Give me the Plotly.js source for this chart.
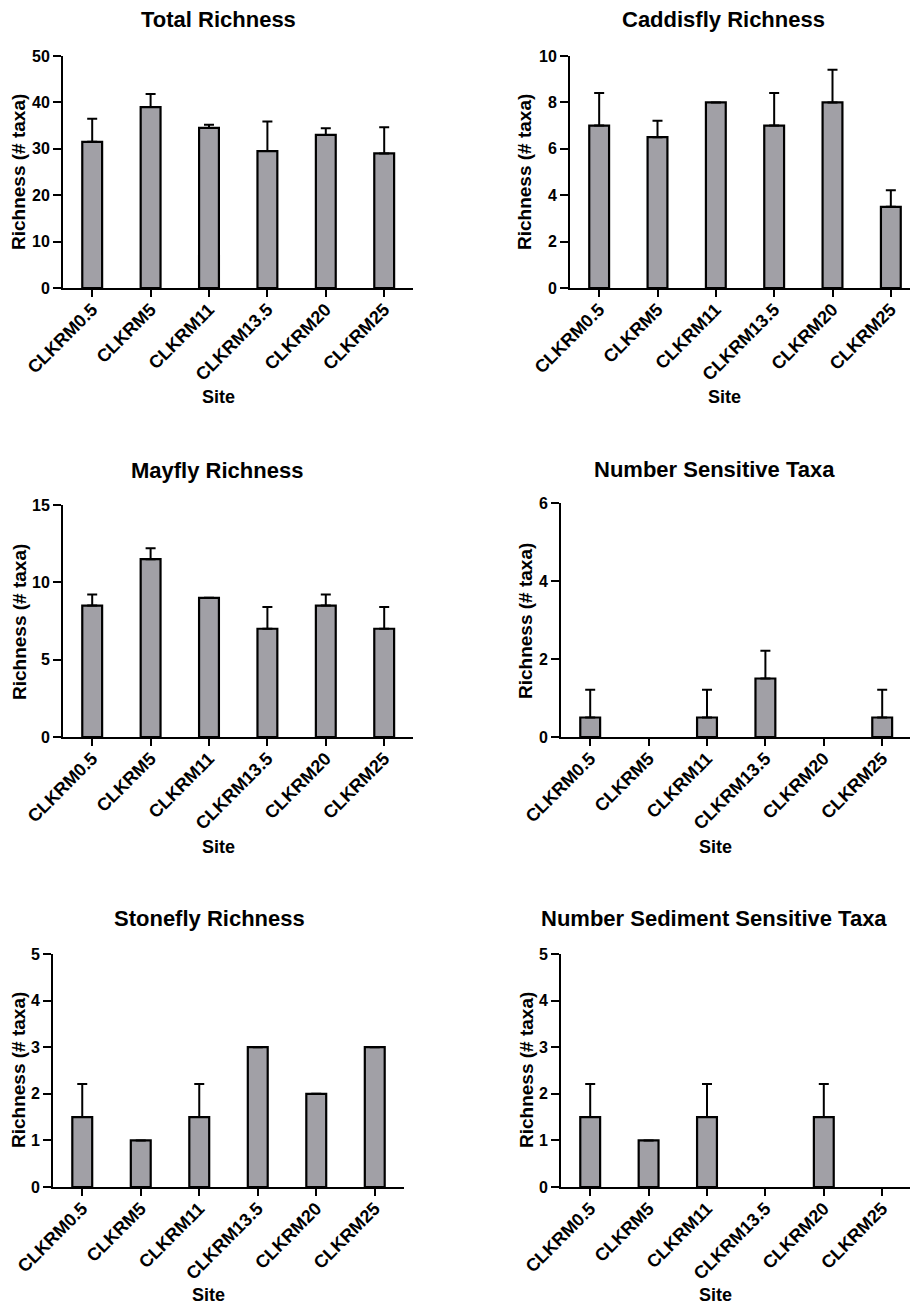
<!DOCTYPE html>
<html>
<head>
<meta charset="utf-8">
<script src="https://cdn.plot.ly/plotly-3.0.1.min.js"></script>
<style>
  html, body { margin: 0; padding: 0; background: #ffffff; overflow: hidden; }
  #chart { width: 920px; height: 1307px; }
</style>
</head>
<body>
<div id="chart"></div>
<script>
// Sampling sites along the creek
const sites = ['CLKRM0.5', 'CLKRM5', 'CLKRM11', 'CLKRM13.5', 'CLKRM20', 'CLKRM25'];

// Mean richness per site and its standard deviation
const totalRichness = [31.5, 39, 34.5, 29.5, 33, 29];
const totalRichnessSD = [4.95, 2.83, 0.71, 6.36, 1.41, 5.66];

const caddisflyRichness = [7, 6.5, 8, 7, 8, 3.5];
const caddisflyRichnessSD = [1.41, 0.71, 0, 1.41, 1.41, 0.71];

const mayflyRichness = [8.5, 11.5, 9, 7, 8.5, 7];
const mayflyRichnessSD = [0.71, 0.71, 0, 1.41, 0.71, 1.41];

const sensitiveTaxa = [0.5, 0, 0.5, 1.5, 0, 0.5];
const sensitiveTaxaSD = [0.71, 0, 0.71, 0.71, 0, 0.71];

const stoneflyRichness = [1.5, 1, 1.5, 3, 2, 3];
const stoneflyRichnessSD = [0.71, 0, 0.71, 0, 0, 0];

const sedimentSensitiveTaxa = [1.5, 1, 1.5, 0, 1.5, 0];
const sedimentSensitiveTaxaSD = [0.71, 0, 0.71, 0, 0.71, 0];

const panelTitles = ['Total Richness', 'Caddisfly Richness', 'Mayfly Richness',
                     'Number Sensitive Taxa', 'Stonefly Richness', 'Number Sediment Sensitive Taxa'];
const yMax = [50, 10, 15, 6, 5, 5];
const yStep = [10, 2, 5, 2, 1, 1];
const yLabel = 'Richness (# taxa)';
const xLabel = 'Site';

const panelValues = [totalRichness, caddisflyRichness, mayflyRichness,
                     sensitiveTaxa, stoneflyRichness, sedimentSensitiveTaxa];
const panelErrors = [totalRichnessSD, caddisflyRichnessSD, mayflyRichnessSD,
                     sensitiveTaxaSD, stoneflyRichnessSD, sedimentSensitiveTaxaSD];

// Page geometry in pixels
const W = 920, H = 1307;
const px = v => v / W;
const py = v => 1 - v / H;

// Plot boxes: [left, right, top, bottom]
const boxes = [
  [63, 413.4, 56, 288],
  [570, 920, 56, 288],
  [63, 413.4, 505, 737],
  [561, 911.4, 503, 737],
  [53, 404, 954, 1187],
  [561, 911.4, 954, 1187]
];
// Label anchors: title, y-axis title, x-axis title
const titlePos = [[218, 20], [723, 20], [217, 470], [714, 469], [209, 918], [714, 918]];
const yTitlePos = [[19, 172], [525, 172], [19, 622], [525, 621], [18, 1070], [526, 1070]];
const xTitlePos = [[218, 397], [724, 397], [218, 847], [715, 847], [208, 1295], [715, 1295]];

const FONT = 'Liberation Sans, Arial, Helvetica, sans-serif';
const BAR_FILL = '#a1a0a6';

const traces = [];
const layout = {
  width: W,
  height: H,
  margin: { l: 0, r: 0, t: 0, b: 0, pad: 0 },
  paper_bgcolor: '#ffffff',
  plot_bgcolor: '#ffffff',
  showlegend: false,
  bargap: 0,
  font: { family: FONT, color: '#000000' },
  annotations: []
};

panelValues.forEach((vals, i) => {
  const n = i + 1;
  const xa = n === 1 ? 'x' : 'x' + n;
  const ya = n === 1 ? 'y' : 'y' + n;
  // sites with no taxa get no bar outline or error cap
  const shownErr = panelErrors[i].map((e, k) => (vals[k] === 0 ? null : e));
  const shownVals = vals.map(v => (v === 0 ? null : v));
  traces.push({
    type: 'bar',
    x: sites,
    y: shownVals,
    width: 0.34,
    xaxis: xa,
    yaxis: ya,
    marker: { color: BAR_FILL, line: { color: '#000000', width: 2.2 } },
    error_y: {
      type: 'data',
      symmetric: false,
      array: shownErr,
      arrayminus: vals.map(() => 0),
      color: '#000000',
      thickness: 2,
      width: 5
    },
    hoverinfo: 'x+y'
  });

  const b = boxes[i];
  const xKey = n === 1 ? 'xaxis' : 'xaxis' + n;
  const yKey = n === 1 ? 'yaxis' : 'yaxis' + n;
  layout[xKey] = {
    domain: [px(b[0]), Math.min(1, px(b[1]))],
    anchor: ya,
    type: 'category',
    categoryarray: sites,
    range: [-0.5, 5.5],
    showline: true,
    linecolor: '#000000',
    linewidth: 2,
    ticks: 'outside',
    ticklen: 7,
    tickwidth: 2,
    tickcolor: '#000000',
    tickangle: -45,
    ticklabelstandoff: -5,
    tickfont: { family: FONT, size: 18, weight: 'bold', color: '#000000' },
    showgrid: false,
    zeroline: false,
    fixedrange: true
  };
  layout[yKey] = {
    domain: [py(b[3]), py(b[2])],
    anchor: xa,
    range: [0, yMax[i]],
    dtick: yStep[i],
    tick0: 0,
    showline: true,
    linecolor: '#000000',
    linewidth: 2,
    ticks: 'outside',
    ticklen: 8,
    tickwidth: 2,
    tickcolor: '#000000',
    tickfont: { family: FONT, size: 16, weight: 'bold', color: '#000000' },
    showgrid: false,
    zeroline: false,
    fixedrange: true
  };

  layout.annotations.push({
    text: panelTitles[i],
    xref: 'paper', yref: 'paper',
    x: px(titlePos[i][0]), y: py(titlePos[i][1]),
    xanchor: 'center', yanchor: 'middle',
    showarrow: false,
    font: { family: FONT, size: 22, weight: 'bold', color: '#000000' }
  });
  layout.annotations.push({
    text: yLabel,
    xref: 'paper', yref: 'paper',
    x: px(yTitlePos[i][0]), y: py(yTitlePos[i][1]),
    xanchor: 'center', yanchor: 'middle',
    textangle: -90,
    showarrow: false,
    font: { family: FONT, size: 19, weight: 'bold', color: '#000000' }
  });
  layout.annotations.push({
    text: xLabel,
    xref: 'paper', yref: 'paper',
    x: px(xTitlePos[i][0]), y: py(xTitlePos[i][1]),
    xanchor: 'center', yanchor: 'middle',
    showarrow: false,
    font: { family: FONT, size: 18, weight: 'bold', color: '#000000' }
  });
});

Plotly.newPlot('chart', traces, layout, { displayModeBar: false, staticPlot: true });
</script>
</body>
</html>
